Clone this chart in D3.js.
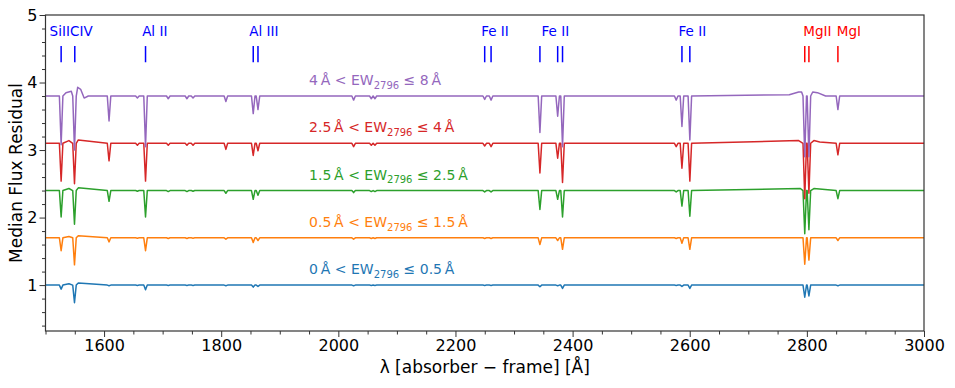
<!DOCTYPE html>
<html>
<head>
<meta charset="utf-8">
<script src="https://cdn.jsdelivr.net/npm/d3@7"></script>
<style>
  body { margin: 0; background: #fff; }
  svg { display: block; font-family: "DejaVu Sans", sans-serif; }
</style>
</head>
<body>
<svg id="chart" width="955" height="388"></svg>
<script>
// bins in EW_2796 (one spectrum per bin), offset baselines
const binLow = [0, 0.5, 1.5, 2.5, 4];
const binHigh = [0.5, 1.5, 2.5, 4, 8];
const baselines = [1.0, 1.7, 2.4, 3.1, 3.8];
const colors = ['#1f77b4', '#ff7f0e', '#2ca02c', '#d62728', '#9467bd'];

// absorption features seen in the composites (rest wavelength, Å)
const featureWaves = [1526.7, 1549.5, 1608.5, 1656.9, 1670.8, 1709.6, 1741.5, 1751.9, 1808.0,
  1854.7, 1862.8, 2026.1, 2056.3, 2062.5, 2249.9, 2260.8, 2344.2, 2374.5, 2382.8,
  2576.9, 2586.7, 2600.2, 2796.4, 2803.5, 2853.0];

// minimum flux reached at each feature, per bin
const minBin0 = [0.94, 0.74, 0.99, 0.995, 0.93, 0.995, 0.995, 0.995, 0.99, 0.97, 0.98, 0.99, 0.995,
  0.995, 0.995, 0.995, 0.975, 0.99, 0.95, 0.995, 0.98, 0.95, 0.82, 0.84, 0.99];
const minBin1 = [1.51, 1.30, 1.64, 1.695, 1.51, 1.69, 1.69, 1.695, 1.68, 1.63, 1.66, 1.68, 1.69,
  1.69, 1.69, 1.69, 1.60, 1.66, 1.53, 1.69, 1.62, 1.53, 1.31, 1.37, 1.66];
const minBin2 = [2.01, 1.90, 2.24, 2.39, 2.01, 2.385, 2.385, 2.39, 2.36, 2.27, 2.33, 2.37, 2.385,
  2.385, 2.38, 2.38, 2.12, 2.27, 2.01, 2.38, 2.17, 2.02, 1.76, 1.82, 2.28];
const minBin3 = [2.54, 2.50, 2.84, 3.07, 2.54, 3.07, 3.07, 3.07, 3.01, 2.92, 2.99, 3.05, 3.07,
  3.07, 3.06, 3.05, 2.66, 2.88, 2.52, 3.05, 2.73, 2.54, 2.28, 2.36, 2.93];
const minBin4 = [3.08, 3.00, 3.43, 3.77, 3.05, 3.76, 3.76, 3.77, 3.72, 3.54, 3.60, 3.74, 3.76,
  3.76, 3.75, 3.74, 3.26, 3.50, 3.05, 3.74, 3.35, 3.15, 2.90, 2.90, 3.60];
const minima = [minBin0, minBin1, minBin2, minBin3, minBin4];

// emission-like shoulders around the strong lines, [wavelength, flux]
const bumpsBin0 = [[1540, 1.02], [1556, 1.03]];
const bumpsBin1 = [[1540, 1.72], [1556, 1.73]];
const bumpsBin2 = [[1540, 2.43], [1556, 2.44], [2789, 2.43], [2812, 2.43]];
const bumpsBin3 = [[1540, 3.14], [1556, 3.15], [2786, 3.14], [2812, 3.14], [2822, 3.12]];
const bumpsBin4 = [[1535, 3.85], [1544, 3.87], [1555, 3.93], [1560, 3.90], [1566, 3.77],
  [1573, 3.80], [2770, 3.82], [2786, 3.86], [2791, 3.86], [2810, 3.86], [2818, 3.85], [2832, 3.80]];
const bumps = [bumpsBin0, bumpsBin1, bumpsBin2, bumpsBin3, bumpsBin4];

// line identifications at the top
const idTexts = ['SiII', 'CIV', 'Al II', 'Al III', 'Fe II', 'Fe II', 'Fe II', 'MgII', 'MgI'];
const idTextWaves = [1507, 1542, 1665, 1848, 2244, 2347, 2581, 2794, 2851];
const idTextColors = ['blue', 'blue', 'blue', 'blue', 'blue', 'blue', 'blue', 'red', 'red'];
const blueMarks = [1526.7, 1550, 1670.8, 1854.7, 1862.8, 2249.9, 2260.8, 2344.2, 2374.5, 2382.8, 2586.7, 2600.2];
const redMarks = [2796.4, 2803.5, 2853.0];

const xTicks = [1600, 1800, 2000, 2200, 2400, 2600, 2800, 3000];
const yTicks = [1, 2, 3, 4, 5];

const margin = { top: 15, right: 31, bottom: 57, left: 45.5 };
const width = 955, height = 388;

const svg = d3.select('#chart');

const x = d3.scaleLinear()
  .domain([1500, 3000])
  .range([margin.left, width - margin.right]);

const y = d3.scaleLinear()
  .domain([0.32, 5])
  .range([height - margin.bottom, margin.top]);

svg.append('defs').append('clipPath').attr('id', 'plot')
  .append('rect')
  .attr('x', margin.left).attr('y', margin.top)
  .attr('width', x.range()[1] - margin.left)
  .attr('height', y.range()[0] - margin.top);

// spectra
const halfWidth = 3;
const line = d3.line().x(d => x(d[0])).y(d => y(d[1]));

const g = svg.append('g').attr('clip-path', 'url(#plot)');
baselines.forEach((base, i) => {
  const pts = [[1500, base], [3000, base]];
  featureWaves.forEach((w, j) => {
    pts.push([w - halfWidth, base], [w, minima[i][j]], [w + halfWidth, base]);
  });
  bumps[i].forEach(p => pts.push(p));
  pts.sort((a, b) => a[0] - b[0]);
  g.append('path')
    .datum(pts)
    .attr('fill', 'none')
    .attr('stroke', colors[i])
    .attr('stroke-width', 1.5)
    .attr('stroke-linejoin', 'round')
    .attr('d', line);
});

// bin labels
baselines.forEach((base, i) => {
  const t = svg.append('text')
    .attr('x', x(1950))
    .attr('y', y(base + 0.16))
    .attr('fill', colors[i])
    .attr('font-size', 14);
  t.append('tspan').text(`${binLow[i]}\u2009Å < EW`);
  t.append('tspan').attr('dy', 3.5).attr('font-size', 10).text('2796');
  t.append('tspan').attr('dy', -3.5).text(` \u2264 ${binHigh[i]}\u2009Å`);
});

// line ids
idTexts.forEach((txt, i) => {
  svg.append('text')
    .attr('x', x(idTextWaves[i]))
    .attr('y', y(4.69))
    .attr('fill', idTextColors[i])
    .attr('font-size', 13.5)
    .text(txt);
});
svg.append('g').selectAll('line')
  .data(blueMarks.map(w => [w, 'blue']).concat(redMarks.map(w => [w, 'red'])))
  .join('line')
  .attr('x1', d => x(d[0])).attr('x2', d => x(d[0]))
  .attr('y1', y(4.3)).attr('y2', y(4.54))
  .attr('stroke', d => d[1])
  .attr('stroke-width', 1.5);

// axes
const axisColor = '#333';
const xMajor = svg.append('g')
  .attr('transform', `translate(0,${y.range()[0]})`)
  .call(d3.axisBottom(x).tickValues(xTicks).tickSize(6).tickPadding(3).tickFormat(d3.format('d')));
const xMinor = svg.append('g')
  .attr('transform', `translate(0,${y.range()[0]})`)
  .call(d3.axisBottom(x).tickValues(d3.range(1500, 3001, 50).filter(v => v % 200 !== 0)).tickSize(3.5).tickFormat(''));
const yMajor = svg.append('g')
  .attr('transform', `translate(${margin.left},0)`)
  .call(d3.axisLeft(y).tickValues(yTicks).tickSize(6).tickPadding(2).tickFormat(d3.format('d')));
const yMinor = svg.append('g')
  .attr('transform', `translate(${margin.left},0)`)
  .call(d3.axisLeft(y).tickValues(d3.range(0.4, 5, 0.2).filter(v => Math.abs(v - Math.round(v)) > 0.01)).tickSize(3.5).tickFormat(''));

[xMajor, xMinor, yMajor, yMinor].forEach(a => {
  a.select('.domain').remove();
  a.selectAll('line').attr('stroke', axisColor).attr('stroke-width', 1);
  a.selectAll('text').attr('font-size', 16).attr('fill', '#000').attr('font-family', '"DejaVu Sans", sans-serif');
});

svg.append('rect')
  .attr('x', margin.left).attr('y', margin.top)
  .attr('width', x.range()[1] - margin.left)
  .attr('height', y.range()[0] - margin.top)
  .attr('fill', 'none')
  .attr('stroke', axisColor)
  .attr('stroke-width', 1.2);

svg.append('text')
  .attr('x', (x.range()[0] + x.range()[1]) / 2)
  .attr('y', 373)
  .attr('text-anchor', 'middle')
  .attr('font-size', 17)
  .text('\u03bb [absorber \u2212 frame] [Å]');

svg.append('text')
  .attr('transform', `translate(22,${(y.range()[0] + y.range()[1]) / 2}) rotate(-90)`)
  .attr('text-anchor', 'middle')
  .attr('font-size', 17)
  .text('Median Flux Residual');
</script>
</body>
</html>
